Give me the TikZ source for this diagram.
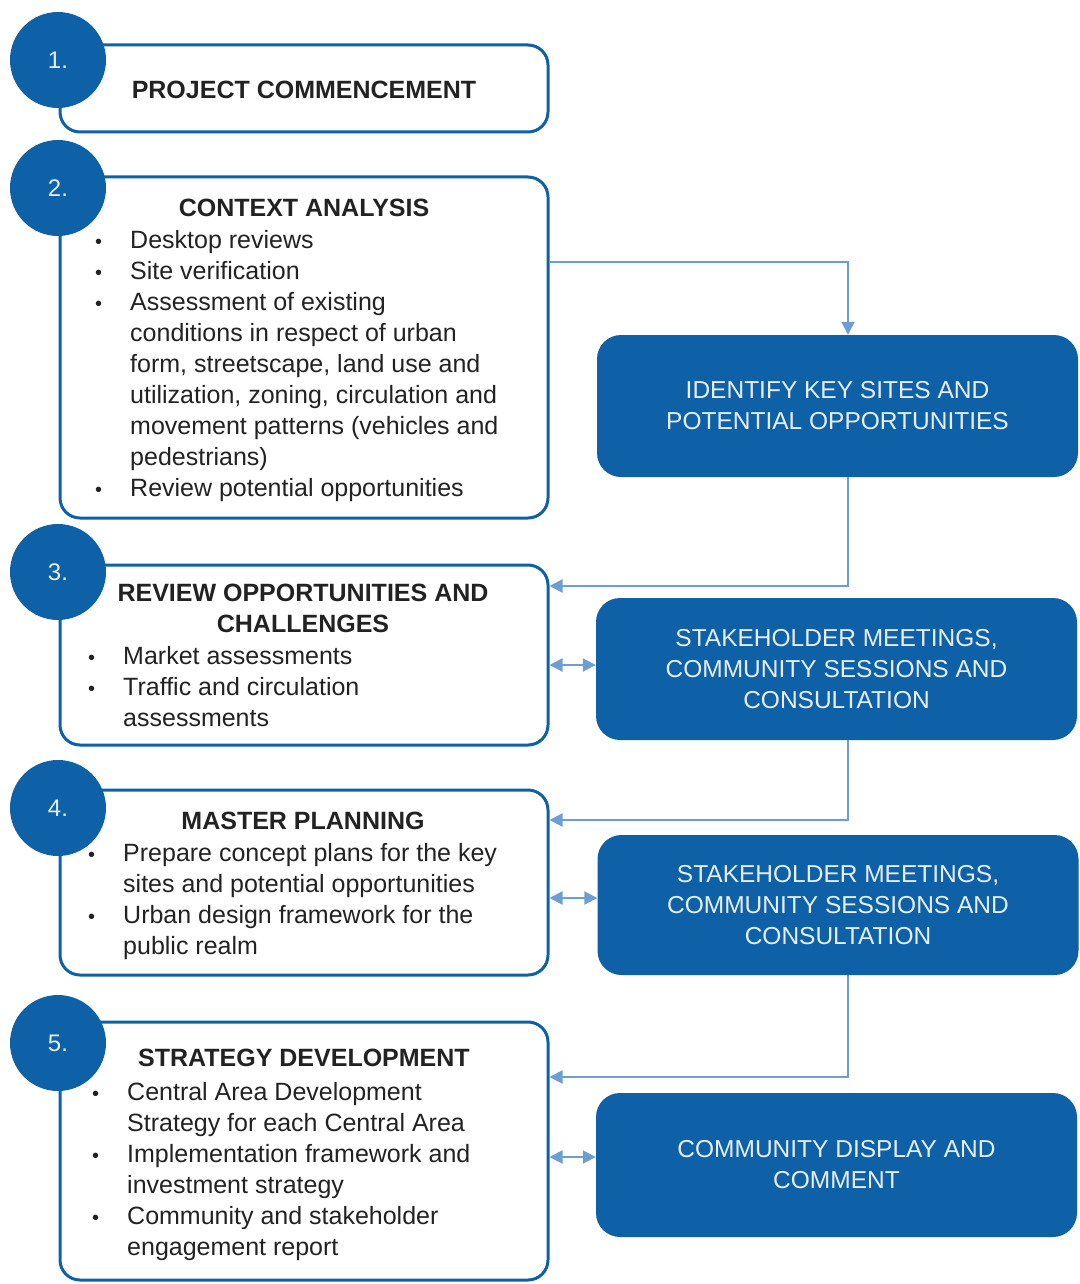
\documentclass[tikz,border=0pt]{standalone}
\usepackage{fontspec}
\setmainfont{Liberation Sans}
\usetikzlibrary{arrows.meta}

\definecolor{planblue}{RGB}{14,97,166}
\definecolor{linkblue}{RGB}{108,158,210}
\definecolor{inktext}{RGB}{34,34,34}
\definecolor{paletext}{RGB}{230,239,250}

\newcommand{\bul}{\makebox[35pt][l]{\fontsize{20}{31}\selectfont\textbullet}}

\tikzset{
  stagebox/.style={draw=planblue, line width=3pt, rounded corners=20pt, minimum width=488pt},
  bluebox/.style={fill=planblue, rounded corners=24pt, minimum width=481pt, text=paletext, align=center, font=\fontsize{24.5}{31}\selectfont},
  stepdot/.style={circle, fill=planblue, minimum size=96pt, inner sep=0pt, text=paletext, font=\fontsize{24}{26}\selectfont},
  heading/.style={text=inktext, align=center, inner sep=0pt, font=\bfseries\fontsize{25}{31}\selectfont},
  bullets/.style={text=inktext, anchor=base west, inner sep=0pt, font=\fontsize{25}{31}\selectfont},
  link/.style={draw=linkblue, line width=2pt, -{Triangle[length=13pt,width=13pt]}},
  twoway/.style={draw=linkblue, line width=2pt, {Triangle[length=13pt,width=13pt]}-{Triangle[length=13pt,width=13pt]}}
}

\begin{document}
\begin{tikzpicture}[x=1pt,y=-1pt]
    \useasboundingbox (0,0) rectangle (1079,1284);

    % stage 1
    \node[stagebox, minimum height=87pt] (s1) at (304,88.5) {};
        \node[heading] (h1) at (304,90) {PROJECT COMMENCEMENT};

    % stage 2
    \node[stagebox, minimum height=341pt] (s2) at (304,347.5) {};
        \node[heading] (h2) at (304,208) {CONTEXT ANALYSIS};
        \node[bullets] (l2) at (95,248.6) {\begin{tabular}[t]{@{}l@{}l@{}}
            \bul & Desktop reviews\\
            \bul & Site verification\\
            \bul & Assessment of existing\\
                 & conditions in respect of urban\\
                 & form, streetscape, land use and\\
                 & utilization, zoning, circulation and\\
                 & movement patterns (vehicles and\\
                 & pedestrians)\\
            \bul & Review potential opportunities
        \end{tabular}};

    % stage 3
    \node[stagebox, minimum height=180pt] (s3) at (304,655) {};
        \node[heading] (h3) at (303,608.5) {REVIEW OPPORTUNITIES AND\\CHALLENGES};
        \node[bullets] (l3) at (88,664.6) {\begin{tabular}[t]{@{}l@{}l@{}}
            \bul & Market assessments\\
            \bul & Traffic and circulation\\
                 & assessments
        \end{tabular}};

    % stage 4
    \node[stagebox, minimum height=185pt] (s4) at (304,882.5) {};
        \node[heading] (h4) at (303,821) {MASTER PLANNING};
        \node[bullets] (l4) at (88,861.6) {\begin{tabular}[t]{@{}l@{}l@{}}
            \bul & Prepare concept plans for the key\\
                 & sites and potential opportunities\\
            \bul & Urban design framework for the\\
                 & public realm
        \end{tabular}};

    % stage 5
    \node[stagebox, minimum height=258pt] (s5) at (304,1151) {};
        \node[heading] (h5) at (304,1058) {STRATEGY DEVELOPMENT};
        \node[bullets] (l5) at (92,1100.6) {\begin{tabular}[t]{@{}l@{}l@{}}
            \bul & Central Area Development\\
                 & Strategy for each Central Area\\
            \bul & Implementation framework and\\
                 & investment strategy\\
            \bul & Community and stakeholder\\
                 & engagement report
        \end{tabular}};

    % numbers
    \node[stepdot] (c1) at (58,60) {1.};
    \node[stepdot] (c2) at (58,188) {2.};
    \node[stepdot] (c3) at (58,572) {3.};
    \node[stepdot] (c4) at (58,808) {4.};
    \node[stepdot] (c5) at (58,1043) {5.};

    % right column
    \node[bluebox, minimum height=142pt] (ident) at (837.5,406) {IDENTIFY KEY SITES AND\\POTENTIAL OPPORTUNITIES};
    \node[bluebox, minimum height=142pt] (meet1) at (836.5,669) {STAKEHOLDER MEETINGS,\\COMMUNITY SESSIONS AND\\CONSULTATION};
    \node[bluebox, minimum height=140pt] (meet2) at (838,905) {STAKEHOLDER MEETINGS,\\COMMUNITY SESSIONS AND\\CONSULTATION};
    \node[bluebox, minimum height=144pt] (show) at (836.5,1165) {COMMUNITY DISPLAY AND\\COMMENT};

    % connectors
    \draw[link] ([yshift=85.5pt]s2.east) -| ([xshift=10.5pt]ident.north);
    \draw[link] ([xshift=10.5pt]ident.south) |- ([yshift=69pt]s3.east);
    \draw[link] ([xshift=11.5pt]meet1.south) |- ([yshift=62.5pt]s4.east);
    \draw[link] ([xshift=10pt]meet2.south) |- ([yshift=74pt]s5.east);

    \draw[twoway] ([yshift=-10pt]s3.east) -- ([yshift=-10pt]s3.east -| meet1.west);
    \draw[twoway] ([yshift=-15.5pt]s4.east) -- ([yshift=-15.5pt]s4.east -| meet2.west);
    \draw[twoway] ([yshift=-6pt]s5.east) -- ([yshift=-6pt]s5.east -| show.west);

\end{tikzpicture}
\end{document}
